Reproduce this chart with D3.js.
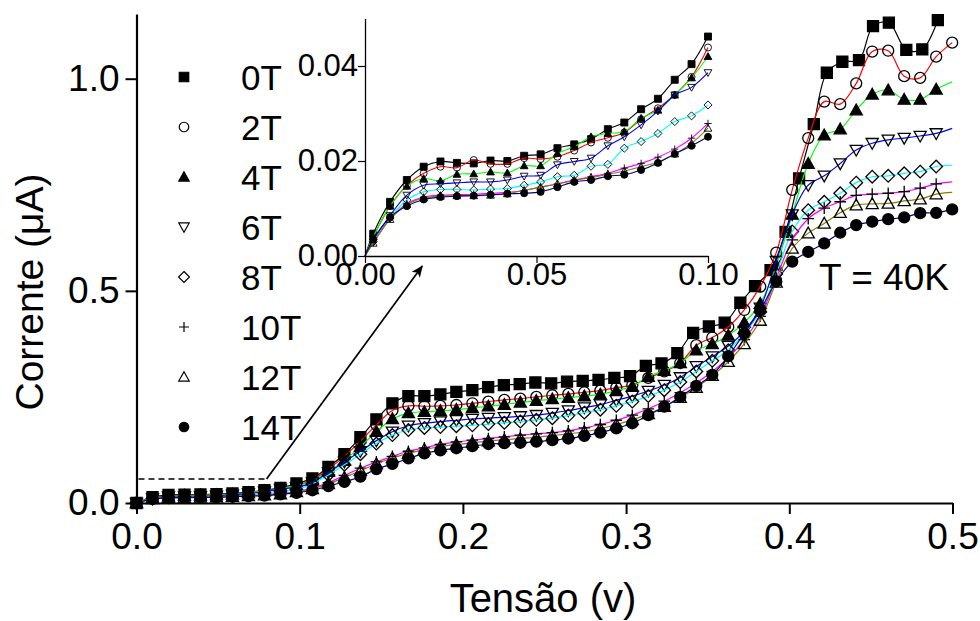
<!DOCTYPE html>
<html><head><meta charset="utf-8">
<script src="https://cdn.jsdelivr.net/npm/d3@7"></script>
<style>
body{margin:0;background:#fff}
svg{display:block;font-family:Arial,"Liberation Sans",Helvetica,sans-serif}
</style>
</head><body>
<svg id="chart" width="980" height="621"></svg>
<script>
// ---------------- DATA ----------------
const seriesNames = ["0T","2T","4T","6T","8T","10T","12T","14T"];

// main plot voltages (V)
const voltage = [0,0.0098,0.0196,0.0294,0.0392,0.049,0.0588,0.0686,0.0784,0.0882,0.098,
 0.1078,0.1176,0.1274,0.1372,0.147,0.1568,0.1666,0.1764,0.1862,0.196,0.2058,
 0.2156,0.2254,0.2352,0.245,0.2548,0.2646,0.2744,0.2842,0.294,0.3038,
 0.3136,0.3234,0.3332,0.343,0.3528,0.3626,0.3724,0.3822,0.392,0.4018,
 0.4116,0.4214,0.4312,0.441,0.4508,0.4606,0.4704,0.4802,0.49,0.4998];
const voltage0T = [0,0.0098,0.0196,0.0294,0.0392,0.049,0.0588,0.0686,0.0784,0.0882,0.098,
 0.1078,0.1176,0.1274,0.1372,0.147,0.1568,0.1666,0.1764,0.1862,0.196,0.2058,
 0.2155,0.2251,0.2348,0.2444,0.2541,0.2638,0.2734,0.2831,0.2928,0.3024,0.3121,
 0.3217,0.3314,0.3411,0.3507,0.3604,0.370,
 0.379,0.3885,0.3977,0.406,0.415,0.423,0.4325,0.4427,0.4513,0.461,0.4717,0.4815,0.491];

// main plot currents (uA)
const current0T = [0,0.0135,0.019,0.0196,0.020,0.021,0.0225,0.0255,0.030,0.0355,0.046,
 0.058,0.085,0.115,0.155,0.197,0.235,0.252,0.252,0.256,0.262,0.266,
 0.273,0.278,0.280,0.284,0.282,0.286,0.288,0.290,0.295,0.299,0.323,0.329,0.353,0.401,0.416,0.425,0.472,
 0.511,0.549,0.639,0.765,0.893,1.014,1.040,1.044,1.124,1.132,1.068,1.069,1.138];
const current2T = [0,0.012,0.0175,0.019,0.0195,0.0205,0.021,0.024,0.029,0.034,0.042,
 0.054,0.080,0.110,0.146,0.184,0.218,0.229,0.228,0.229,0.231,0.235,
 0.239,0.243,0.246,0.25,0.254,0.257,0.261,0.265,0.272,0.278,
 0.295,0.31,0.33,0.372,0.39,0.415,0.455,0.51,0.59,0.738,
 0.86,0.946,0.940,0.989,1.064,1.066,1.006,1.002,1.052,1.085];
const current4T = [0,0.011,0.016,0.0172,0.0177,0.019,0.0205,0.024,0.0285,0.0335,0.041,
 0.052,0.074,0.10,0.133,0.168,0.198,0.212,0.215,0.217,0.22,0.224,
 0.228,0.232,0.237,0.241,0.245,0.248,0.252,0.256,0.265,0.275,
 0.298,0.312,0.33,0.36,0.375,0.395,0.425,0.47,0.56,0.68,
 0.80,0.867,0.881,0.926,0.963,0.973,0.951,0.951,0.975,0.993];
const current6T = [0,0.0105,0.015,0.0154,0.0158,0.0168,0.0195,0.022,0.027,0.033,0.037,
 0.048,0.072,0.097,0.122,0.147,0.168,0.182,0.188,0.192,0.195,0.198,
 0.200,0.202,0.204,0.207,0.212,0.218,0.225,0.232,0.242,0.252,
 0.264,0.278,0.296,0.322,0.345,0.37,0.405,0.46,0.57,0.68,
 0.749,0.771,0.80,0.832,0.848,0.856,0.86,0.865,0.871,0.883];
const current8T = [0,0.0105,0.0137,0.0139,0.0141,0.015,0.0167,0.019,0.0235,0.028,0.0315,
 0.045,0.066,0.09,0.115,0.14,0.16,0.172,0.177,0.179,0.181,0.183,
 0.186,0.189,0.192,0.196,0.20,0.206,0.213,0.22,0.229,0.239,
 0.252,0.266,0.285,0.31,0.335,0.36,0.40,0.45,0.54,0.64,
 0.69,0.71,0.73,0.755,0.769,0.771,0.777,0.781,0.793,0.796];
const current10T = [0,0.0095,0.0127,0.013,0.0134,0.0138,0.0152,0.0167,0.019,0.0225,0.027,
 0.035,0.048,0.065,0.082,0.097,0.11,0.122,0.13,0.138,0.144,0.148,
 0.152,0.156,0.16,0.163,0.166,0.17,0.177,0.185,0.195,0.207,
 0.222,0.24,0.26,0.283,0.31,0.342,0.385,0.44,0.53,0.62,
 0.67,0.695,0.71,0.725,0.728,0.73,0.734,0.742,0.752,0.757];
const current12T = [0,0.0095,0.0125,0.0127,0.013,0.014,0.0152,0.0165,0.0185,0.021,0.026,
 0.033,0.045,0.06,0.076,0.092,0.106,0.117,0.126,0.133,0.138,0.142,
 0.146,0.149,0.152,0.155,0.159,0.163,0.168,0.175,0.185,0.196,
 0.21,0.227,0.248,0.272,0.30,0.333,0.375,0.43,0.52,0.60,
 0.636,0.659,0.684,0.702,0.705,0.706,0.712,0.716,0.728,0.732];
const current14T = [0,0.0095,0.0122,0.0127,0.013,0.0133,0.0148,0.016,0.0175,0.0205,0.024,
 0.03,0.04,0.05,0.062,0.08,0.092,0.105,0.117,0.124,0.129,0.134,
 0.139,0.141,0.142,0.1445,0.148,0.152,0.158,0.166,0.176,0.188,
 0.207,0.227,0.25,0.276,0.302,0.346,0.40,0.455,0.522,0.569,
 0.592,0.612,0.637,0.655,0.663,0.669,0.673,0.683,0.684,0.692];

// inset voltages (V) and currents (uA)
const insetVoltage = [0,0.0024,0.0073,0.0122,0.0171,0.022,0.0268,0.0317,0.0366,0.0415,0.0464,
 0.0512,0.0561,0.061,0.0659,0.0708,0.0756,0.0805,0.0854,0.0903,0.0952,0.1];
const inset0T = [0,0.0047,0.0114,0.016,0.0188,0.0199,0.0196,0.0195,0.0201,0.0200,0.0211,0.0214,0.0227,0.0235,0.0246,0.0267,0.0281,0.0309,0.0331,0.0371,0.0404,0.0462];
const inset2T = [0,0.004,0.0105,0.0148,0.0174,0.0188,0.0186,0.0202,0.0194,0.0194,0.0206,0.0204,0.0209,0.0222,0.0239,0.0249,0.026,0.0288,0.0311,0.0339,0.0377,0.0439];
const inset4T = [0,0.004,0.0105,0.0147,0.0163,0.0158,0.0172,0.0173,0.0177,0.0175,0.019,0.019,0.0216,0.023,0.0251,0.0258,0.0262,0.029,0.0307,0.0339,0.0375,0.042];
const inset6T = [0,0.003,0.0085,0.0128,0.0149,0.0152,0.0154,0.0156,0.0156,0.016,0.0168,0.017,0.0192,0.0199,0.0206,0.0232,0.0251,0.0276,0.0305,0.0339,0.0355,0.0386];
const inset8T = [0,0.003,0.008,0.0118,0.0135,0.014,0.014,0.0139,0.0141,0.0142,0.0149,0.0156,0.0167,0.017,0.0189,0.0193,0.0227,0.0241,0.0258,0.0283,0.0295,0.0318];
const inset10T = [0,0.0028,0.0078,0.011,0.0124,0.0128,0.0129,0.013,0.0132,0.0134,0.0138,0.0145,0.0152,0.016,0.0167,0.0174,0.0185,0.0195,0.0208,0.0225,0.0248,0.0279];
const inset12T = [0,0.0027,0.0077,0.0108,0.0122,0.0126,0.0127,0.0127,0.0128,0.0131,0.0138,0.0145,0.0152,0.0159,0.0165,0.0172,0.0179,0.0188,0.0198,0.0215,0.0237,0.0269];
const inset14T = [0,0.0035,0.0082,0.0105,0.0119,0.0124,0.0126,0.0127,0.0129,0.0131,0.0132,0.0135,0.0145,0.0156,0.016,0.0168,0.0171,0.0181,0.0196,0.0215,0.0232,0.0251];

// ticks
const xTicksMain = [0,0.1,0.2,0.3,0.4,0.5];
const xMinorMain = [0.05,0.15,0.25,0.35,0.45];
const yTicksMain = [0,0.5,1.0];
const yMinorMain = [0.25,0.75];
const xTicksInset = [0,0.05,0.1];
const xMinorInset = [0.025,0.075];
const yTicksInset = [0,0.02,0.04];
const yMinorInset = [0.01,0.03,0.05];

// annotation (zoom box + arrow)
const zoomBoxV = [0,0.0797];
const zoomBoxI = 0.0565;
const arrowTargetInset = [0.0167,-0.0021];

// ---------------- STYLES ----------------
const mainCurrents = [current0T,current2T,current4T,current6T,current8T,current10T,current12T,current14T];
const insetCurrents = [inset0T,inset2T,inset4T,inset6T,inset8T,inset10T,inset12T,inset14T];
const styles = [
 {color:"#000000", shape:"square",  fill:true},
 {color:"#ff0000", shape:"circle",  fill:false},
 {color:"#00ff00", shape:"triUp",   fill:true},
 {color:"#0000ff", shape:"triDown", fill:false},
 {color:"#00ffff", shape:"diamond", fill:false},
 {color:"#ff00ff", shape:"plus",    fill:false},
 {color:"#808000", shape:"triUp",   fill:false},
 {color:"#000080", shape:"circle",  fill:true}
];
const lastMarker = [true,true,false,false,false,false,false,true];

function markerPath(type, s){
  const h = s/2;
  switch(type){
    case "square": return `M${-h},${-h}H${h}V${h}H${-h}Z`;
    case "circle": return `M${h},0A${h},${h} 0 1,1 ${-h},0A${h},${h} 0 1,1 ${h},0Z`;
    case "triUp": return `M0,${-h*1.1}L${h*1.1},${h*0.85}L${-h*1.1},${h*0.85}Z`;
    case "triDown": return `M0,${h*1.1}L${h*1.1},${-h*0.85}L${-h*1.1},${-h*0.85}Z`;
    case "diamond": return `M0,${-h*1.15}L${h*1.15},0L0,${h*1.15}L${-h*1.15},0Z`;
    case "plus": return `M${-h*1.05},0H${h*1.05}M0,${-h*1.05}V${h*1.05}`;
  }
}

const svg = d3.select("#chart");
const FONT = "Arial, 'Liberation Sans', Helvetica, sans-serif";

// scales
const xMain = d3.scaleLinear().domain([0,0.5]).range([136.5,952.5]);
const yMain = d3.scaleLinear().domain([0,1.1525]).range([503,14]);
const xIn = d3.scaleLinear().domain([0,0.1]).range([365,708]);
const yIn = d3.scaleLinear().domain([0,0.05]).range([256,18.5]);

// ---------------- MAIN DATA ----------------
const gMain = svg.append("g");
mainCurrents.forEach((cur, si) => {
  const xs = si === 0 ? voltage0T : voltage;
  const pts = cur.map((c,i)=>[xs[i], c]);
  const st = styles[si];
  gMain.append("path")
    .attr("d", d3.line().x(d=>xMain(d[0])).y(d=>yMain(d[1])).curve(d3.curveCatmullRom.alpha(0.5))(pts))
    .attr("fill","none").attr("stroke", st.color).attr("stroke-width",1.2);
  const mpts = lastMarker[si] ? pts : pts.slice(0, pts.length-1);
  gMain.append("g").selectAll("path").data(mpts).join("path")
    .attr("transform", d=>`translate(${xMain(d[0])},${yMain(d[1])})`)
    .attr("d", markerPath(st.shape, 11))
    .attr("fill", st.fill ? "#000" : "none")
    .attr("stroke", "#000").attr("stroke-width", 1.3);
});

// ---------------- MAIN AXES ----------------
const axX = svg.append("g").attr("transform","translate(0,503)");
axX.call(d3.axisBottom(xMain).tickValues(xMinorMain).tickSize(6).tickSizeOuter(0).tickFormat(""));
axX.call(d3.axisBottom(xMain).tickValues(xTicksMain).tickSize(11).tickSizeOuter(0).tickFormat(d3.format(".1f")));
axX.selectAll("path.domain").attr("stroke","#000").attr("stroke-width",2.2);
axX.selectAll(".tick line").attr("stroke","#000").attr("stroke-width",2);
axX.selectAll(".tick text").attr("y",46).attr("dy",0).attr("font-size","37px").attr("font-family",FONT).attr("fill","#000");

const axY = svg.append("g").attr("transform","translate(136.5,0)");
axY.call(d3.axisLeft(yMain).tickValues(yMinorMain).tickSize(6).tickSizeOuter(0).tickFormat(""));
axY.call(d3.axisLeft(yMain).tickValues(yTicksMain).tickSize(11).tickSizeOuter(0).tickFormat(d3.format(".1f")));
axY.selectAll("path.domain").attr("stroke","#000").attr("stroke-width",2.2);
axY.selectAll(".tick line").attr("stroke","#000").attr("stroke-width",2);
axY.selectAll(".tick text").attr("x",-17).attr("font-size","37px").attr("font-family",FONT).attr("fill","#000");

svg.append("text").attr("transform","translate(42.5,292) rotate(-90)")
  .attr("text-anchor","middle").attr("font-size","39px").attr("font-family",FONT)
  .text("Corrente (\u03BCA)");
svg.append("text").attr("x",543).attr("y",612)
  .attr("text-anchor","middle").attr("font-size","40px").attr("font-family",FONT)
  .text("Tensão (v)");

// ---------------- LEGEND ----------------
const gLeg = svg.append("g");
seriesNames.forEach((nm, i) => {
  const st = styles[i];
  gLeg.append("path").attr("transform",`translate(184,${77+50*i})`)
    .attr("d", markerPath(st.shape, 9.5))
    .attr("fill", st.fill ? "#000" : "none").attr("stroke","#000").attr("stroke-width",1.2);
  gLeg.append("text").attr("x",241).attr("y",90+50*i)
    .attr("font-size","35px").attr("font-family",FONT).text(nm);
});

svg.append("text").attr("x",819).attr("y",290).attr("font-size","37px").attr("font-family",FONT).text("T = 40K");

// ---------------- ZOOM BOX + ARROW ----------------
svg.append("line")
  .attr("x1", xMain(zoomBoxV[0])+2).attr("x2", xMain(zoomBoxV[1]))
  .attr("y1", yMain(zoomBoxI)).attr("y2", yMain(zoomBoxI))
  .attr("stroke","#000").attr("stroke-width",1.5).attr("stroke-dasharray","6,4");
const defs = svg.append("defs");
defs.append("marker").attr("id","ah").attr("viewBox","0 0 12 10").attr("refX",11).attr("refY",5)
  .attr("markerWidth",13).attr("markerHeight",10).attr("markerUnits","userSpaceOnUse").attr("orient","auto")
  .append("path").attr("d","M0,0L12,5L0,10L3,5Z").attr("fill","#000");
svg.append("line")
  .attr("x1", xMain(zoomBoxV[1])).attr("y1", yMain(zoomBoxI))
  .attr("x2", xIn(arrowTargetInset[0])).attr("y2", yIn(arrowTargetInset[1]))
  .attr("stroke","#000").attr("stroke-width",1.7).attr("marker-end","url(#ah)");

// ---------------- INSET ----------------
const gIn = svg.append("g");
insetCurrents.forEach((cur, si) => {
  const pts = cur.map((c,i)=>[insetVoltage[i], c]);
  const st = styles[si];
  gIn.append("path")
    .attr("d", d3.line().x(d=>xIn(d[0])).y(d=>yIn(d[1])).curve(d3.curveCatmullRom.alpha(0.5))(pts))
    .attr("fill","none").attr("stroke", st.color).attr("stroke-width",1.1);
  gIn.append("g").selectAll("path").data(pts.slice(1)).join("path")
    .attr("transform", d=>`translate(${xIn(d[0])},${yIn(d[1])})`)
    .attr("d", markerPath(st.shape, 7))
    .attr("fill", st.fill ? "#000" : "none")
    .attr("stroke", "#000").attr("stroke-width", 0.9);
});

const inX = svg.append("g").attr("transform","translate(0,256)");
inX.call(d3.axisBottom(xIn).tickValues(xMinorInset).tickSize(4).tickSizeOuter(0).tickFormat(""));
inX.call(d3.axisBottom(xIn).tickValues(xTicksInset).tickSize(7).tickSizeOuter(0).tickFormat(d3.format(".2f")));
inX.selectAll("path.domain").attr("stroke","#000").attr("stroke-width",1.3);
inX.selectAll(".tick line").attr("stroke","#000").attr("stroke-width",1.2);
inX.selectAll(".tick text").attr("y",29).attr("dy",0).attr("font-size","31px").attr("font-family",FONT).attr("fill","#000");

const inY = svg.append("g").attr("transform","translate(365,0)");
inY.call(d3.axisLeft(yIn).tickValues(yMinorInset).tickSize(4).tickSizeOuter(0).tickFormat(""));
inY.call(d3.axisLeft(yIn).tickValues(yTicksInset).tickSize(7).tickSizeOuter(0).tickFormat(d3.format(".2f")));
inY.selectAll("path.domain").attr("stroke","#000").attr("stroke-width",1.3);
inY.selectAll(".tick line").attr("stroke","#000").attr("stroke-width",1.2);
inY.selectAll(".tick text").attr("x",-7).attr("font-size","31px").attr("font-family",FONT).attr("fill","#000");
</script>
</body></html>
